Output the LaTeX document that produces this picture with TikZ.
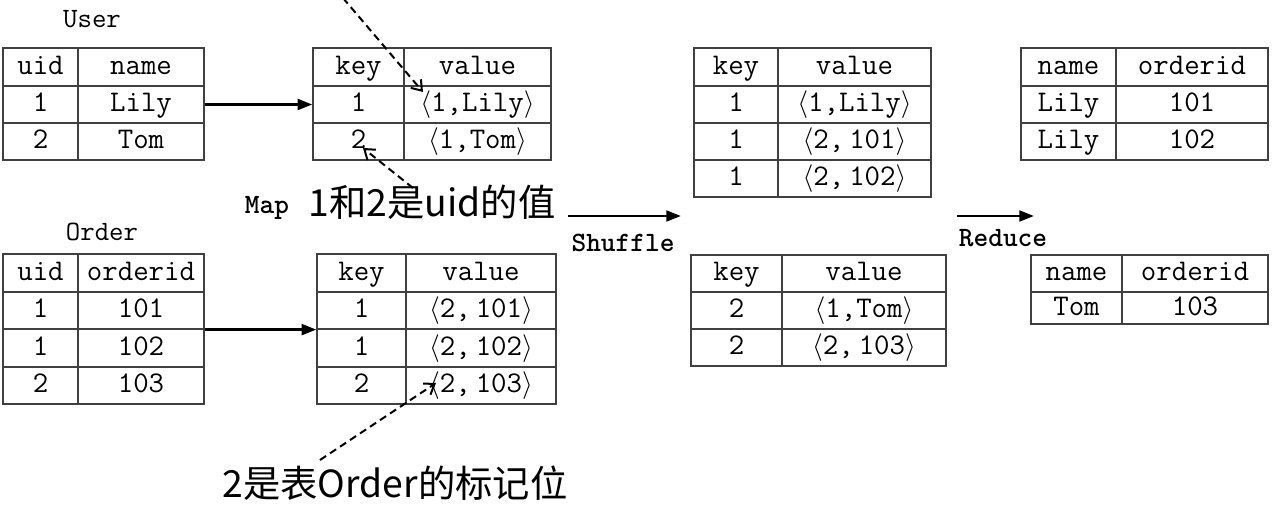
\documentclass[tikz,border=0pt]{standalone}
\usepackage{fontspec}
\newfontfamily\cjk{Noto Sans CJK SC}
\usetikzlibrary{arrows.meta}
\newcommand\trow[8]{%
  \pgfmathsetmacro\cwa{(#3-#2)*0.75}%
  \pgfmathsetmacro\cwb{(#4-#3)*0.75}%
  \pgfmathsetmacro\chh{(#6-#5)*0.75}%
  \node[cell, minimum width=\cwa pt, minimum height=\chh pt] (#1a) at ({(#2+#3)/2},{(#5+#6)/2}) {#7};
  \node[cell, minimum width=\cwb pt, minimum height=\chh pt] (#1b) at ({(#3+#4)/2},{(#5+#6)/2}) {#8};
}
\newcommand\lt{$\langle$}
\newcommand\gt{$\rangle$}
\begin{document}
\begin{tikzpicture}[x=0.75pt,y=-0.75pt,
  cell/.style={draw=black!75, line width=0.9pt, inner sep=0pt, text height=12pt, text depth=1pt,
    font=\fontsize{22.5}{26}\selectfont\ttfamily},
  title/.style={font=\fontsize{21}{24}\selectfont\ttfamily},
  step label/.style={font=\fontsize{21}{24}\selectfont\ttfamily\bfseries},
  note/.style={font=\fontsize{28}{32}\selectfont\cjk},
  flow/.style={line width=2.2pt, -{Triangle[length=11pt,width=8pt]}},
  hint/.style={line width=1.5pt, dash pattern=on 5.5pt off 3.5pt, -{Straight Barb[length=7pt,width=10pt]}}]
\useasboundingbox (0,0) rectangle (1272,528);
% User
\node[title] (userlbl) at (92,19) {User};
\trow{u0}{3}{78}{204}{48}{86}{uid}{name}
\trow{u1}{3}{78}{204}{86}{123}{1}{Lily}
\trow{u2}{3}{78}{204}{123}{160}{2}{Tom}
% Map of User
\trow{mu0}{313}{404}{551}{48}{86}{key}{value}
\trow{mu1}{313}{404}{551}{86}{123}{1}{\lt1,Lily\gt}
\trow{mu2}{313}{404}{551}{123}{160}{2}{\lt1,Tom\gt}
% Order
\node[title] (orderlbl) at (102,232) {Order};
\trow{o0}{3}{78}{204}{254}{292}{uid}{orderid}
\trow{o1}{3}{78}{204}{292}{329}{1}{101}
\trow{o2}{3}{78}{204}{329}{367}{1}{102}
\trow{o3}{3}{78}{204}{367}{404}{2}{103}
% Map of Order
\trow{mo0}{317}{406}{556}{254}{292}{key}{value}
\trow{mo1}{317}{406}{556}{292}{329}{1}{\lt2,\,101\gt}
\trow{mo2}{317}{406}{556}{329}{367}{1}{\lt2,\,102\gt}
\trow{mo3}{317}{406}{556}{367}{404}{2}{\lt2,\,103\gt}
% Shuffle 1
\trow{sa0}{694}{778}{931}{48}{86}{key}{value}
\trow{sa1}{694}{778}{931}{86}{123}{1}{\lt1,Lily\gt}
\trow{sa2}{694}{778}{931}{123}{160}{1}{\lt2,\,101\gt}
\trow{sa3}{694}{778}{931}{160}{197}{1}{\lt2,\,102\gt}
% Shuffle 2
\trow{sb0}{691}{782}{946}{255}{292}{key}{value}
\trow{sb1}{691}{782}{946}{292}{329}{2}{\lt1,Tom\gt}
\trow{sb2}{691}{782}{946}{329}{366}{2}{\lt2,\,103\gt}
% Reduce 1
\trow{ra0}{1021}{1116}{1268}{48}{86}{name}{orderid}
\trow{ra1}{1021}{1116}{1268}{86}{123}{Lily}{101}
\trow{ra2}{1021}{1116}{1268}{123}{160}{Lily}{102}
% Reduce 2
\trow{rb0}{1031}{1122}{1268}{255}{292}{name}{orderid}
\trow{rb1}{1031}{1122}{1268}{292}{324}{Tom}{103}
% map arrows
\draw[flow] (u1b.east) -- (mu1a.west);
\draw[flow] (o1b.south east) -- (mo1a.south west);
\node[step label] (maplbl) at (267,208) {Map};
% shuffle
\coordinate (sh1) at (568,216);
\coordinate (sh2) at (681,216);
\draw[flow] (sh1) -- (sh2);
\node[step label] (shlbl) at (623,243) {Shuffle};
% reduce
\coordinate (re1) at (957,216);
\coordinate (re2) at (1034,216);
\draw[flow] (re1) -- (re2);
\node[step label] (relbl) at (1003,238) {Reduce};
% notes
\node[note] (note1) at (432,202) {1和2是uid的值};
\node[note] (note2) at (395,483) {2是表Order的标记位};
\coordinate (d1s) at (343,-2);
\coordinate (d1e) at (423,92);
\coordinate (d2s) at (413,188);
\coordinate (d2e) at (363,148);
\coordinate (d3s) at (320,460);
\coordinate (d3e) at (436,383);
\draw[hint] (d1s) -- (d1e);
\draw[hint] (d2s) -- (d2e);
\draw[hint] (d3s) -- (d3e);
\end{tikzpicture}
\end{document}
